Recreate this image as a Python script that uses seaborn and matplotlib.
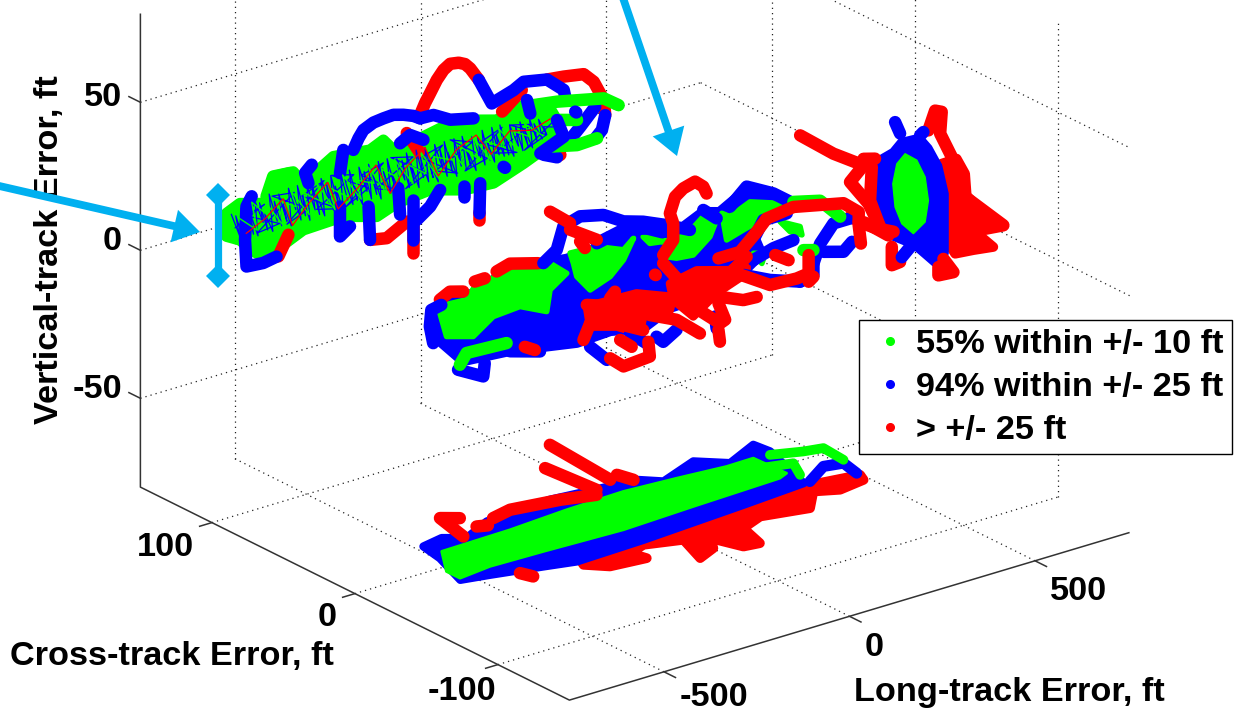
import matplotlib
matplotlib.use("Agg")
import pandas as pd
import seaborn as sns
import matplotlib.pyplot as plt
from matplotlib.lines import Line2D

long_lim = (-755, 755)
cross_lim = (-150, 150)
vert_lim = (-80, 80)
long_ticks = [-500, 0, 500]
cross_ticks = [-100, 0, 100]
vert_ticks = [-50, 0, 50]

legend_labels = ["55% within +/- 10 ft", "94% within +/- 25 ft", "> +/- 25 ft"]

# long-track vs vertical error, shadow on the back wall (long, vert)
back_green_fill = [(-523, 3.8), (-487, 5.8), (-406, 2.8), (-397, 11.5), (-343, 11.1), (-316, 6.2), (-235, 12.2),
                   (-136, 10.7), (-100, 12.7), (-64, 6.9), (8, 9.8), (80, 11.6), (152, 10), (206, 8), (260, 10.5),
                   (341, 8.5), (368, 1.9), (341, -6.1), (278, -9.4), (197, -13), (116, -12.3), (26, -8.9), (-64, -10),
                   (-118, -12.5), (-208, -9.1), (-316, -9.6), (-388, -13.6), (-442, -12.7), (-487, -6.6), (-523, -4)]
back_green = [[(-415, 5.4), (-397, 11.5), (-352, 11), (-334, 5.8)],
              [(305, 9.3), (368, 8.1), (494, 4.5), (534, 0.7)],
              [(350, -6.4), (422, -8.6), (476, -8.3)],
              [(377, 1.6), (422, -0.1)],
              [(-523, 1), (-520, -3)]]
back_blue = [[(-181, 12.4), (-167, 15.8), (-154, 18.1), (-127, 19.6), (-100, 20), (-73, 20.2), (-46, 19.2), (-19, 17.8),
              (-1, 16.3)],
             [(-1, 16.3), (35, 16.1), (80, 12.8), (143, 10.9)],
             [(157, 23.4), (192, 14.1), (251, 16.4), (278, 18.2), (341, 16.6), (386, 11.4), (390, 9)],
             [(498, -1.3), (489, -6), (471, -8.2)],
             [(471, 2.5), (431, -2.7), (395, -7)],
             [(332, -8.5), (368, -10.7)],
             [(-217, -5.4), (-217, -15.5), (-190, -13.1)],
             [(-140, -8.3), (-136, -19.7)],
             [(-60, -5), (-55, -14.2)],
             [(-19, -10.5), (-19, -24.1)],
             [(-10, -17.7), (26, -14.5), (53, -9.9)],
             [(161, -11.7), (159, -21.8)],
             [(116, -11.1), (116, -14.5)],
             [(224, -8.5), (228, -9)]]
back_blue_over = [[(-208, 13.4), (-217, 5.9)],
                  [(-293, 11.6), (-311, 9.5), (-302, 5.7)],
                  [(-455, 7), (-469, 4.1), (-473, -7.1), (-469, -16.2), (-424, -16.7), (-388, -15.9)],
                  [(-55, 9.9), (-28, 11.7), (8, 8.7)],
                  [(287, 11.7), (296, 6.8)],
                  [(417, 2.9), (420, 2.5)],
                  [(368, 1.9), (386, -4.4), (323, -7.7)]]
back_red = [[(-1, 17.5), (12, 20.9), (26, 23.8), (44, 27.6), (62, 30.3), (80, 31.7), (103, 31.2), (120, 30.1), (134, 28.1),
             (157, 23.4)],
            [(341, 16.6), (386, 15.9), (440, 14.7), (467, 11.1), (494, 3.9), (498, -1.3)],
            [(220, 10.3), (273, 15.6)],
            [(-37, 12.7), (-1, 4.5)],
            [(-136, -19.7), (-91, -20.8), (-37, -17.2)],
            [(-19, -19.5), (-19, -28.5)],
            [(159, -21.2), (159, -24)],
            [(-383, -16), (-356, -9.7)],
            [(377, -10.2), (372, -10.3)]]
back_hatch = [(-510, 3), (-488, -5), (-498, 2), (-476, -7), (-484, 4), (-462, -4), (-472, 5), (-450, -6), (-458, 1),
              (-438, -7), (-446, 5), (-424, -3), (-434, 4), (-412, -6), (-420, 0), (-398, -7), (-408, 6), (-386, -4),
              (-394, 3), (-374, -6), (-382, 5), (-360, -5), (-370, 1), (-348, -7), (-356, 6), (-336, -2), (-344, 4),
              (-322, -6), (-332, 6), (-310, -5), (-318, 2), (-298, -7), (-306, 5), (-284, -4), (-294, 6), (-272, -6),
              (-280, 1), (-258, -7), (-268, 6), (-246, -3), (-254, 4), (-234, -6), (-242, 6), (-220, -5), (-230, 2),
              (-208, -7), (-216, 6), (-196, -4), (-204, 3), (-182, -6), (-192, 6), (-170, -5), (-178, 0), (-156, -7),
              (-166, 6), (-144, -3), (-152, 4), (-132, -6), (-140, 6), (-118, -5), (-128, 2), (-106, -7), (-114, 6),
              (-94, -4), (-102, 3), (-80, -6), (-90, 6), (-68, -5), (-76, 0), (-54, -7), (-64, 5), (-42, -3), (-50, 4),
              (-30, -6), (-38, 6), (-16, -5), (-26, 2), (-4, -7), (-12, 6), (8, -4), (0, 3), (22, -6), (12, 6), (34, -5),
              (26, 0), (48, -7), (38, 6), (60, -3), (52, 4), (72, -6), (64, 6), (86, -5), (76, 2), (98, -7), (90, 6),
              (110, -4), (102, 3), (124, -6), (112, 6), (136, -5), (128, 0), (150, -7), (138, 5), (162, -3), (154, 4),
              (174, -6), (166, 6), (188, -5), (178, 2), (200, -6), (192, 6), (212, -4), (204, 3), (226, -5), (214, 6),
              (238, -5), (230, 1), (252, -6), (240, 5), (264, -3), (256, 4), (276, -5), (268, 5), (290, -4), (280, 2),
              (302, -5), (294, 5), (314, -3), (306, 3), (328, -3), (318, 4), (340, -2), (332, 1), (356, 0)]
# second scribble, long strokes running with the track, breaks up the zigzag above
back_hatch_long = [(-500, -2), (-420, 3), (-470, 1), (-380, -5), (-440, -6), (-340, 4), (-400, 5), (-300, -3),
                   (-360, -6), (-260, 5), (-320, 2), (-220, -6), (-280, -4), (-180, 4), (-240, 6), (-140, -2),
                   (-200, -6), (-100, 5), (-160, 3), (-60, -6), (-120, -3), (-20, 4), (-80, 6), (20, -3), (-40, -6),
                   (60, 5), (0, 3), (100, -6), (40, -3), (140, 3), (80, 6), (180, -4), (120, -6), (220, 5), (160, 2),
                   (260, -5), (200, -3), (300, 3), (240, 5), (340, -2), (280, -5), (360, 2)]
back_hatch_green = [(-490, 1), (-440, -5), (-455, 5), (-405, -2), (-420, 4), (-370, -6), (-385, 3), (-335, -1),
                    (-350, 5), (-300, -5), (-315, 3), (-265, -2), (-280, 5), (-230, -6), (-245, 2), (-195, -3),
                    (-210, 5), (-160, -5), (-175, 2), (-125, -1), (-140, 5), (-90, -6), (-105, 3), (-55, -2), (-70, 5),
                    (-20, -5), (-35, 2), (15, -3), (0, 5), (50, -6), (35, 2), (85, -1), (70, 5), (120, -5), (105, 3),
                    (155, -3), (140, 5), (190, -5), (175, 2), (225, -2), (210, 5), (260, -4), (245, 3), (295, -1),
                    (280, 4), (330, -2)]
back_red_hatch = [(-470, -5), (-420, -2), (-370, 3), (-345, -7), (-300, -1), (-250, 4), (-222, -6), (-170, -1),
                  (-120, 5), (-82, -6), (-40, 1), (12, 6), (48, -5), (96, 2), (150, 5), (190, -3), (240, 3), (300, 1),
                  (350, 3)]

# the 3D track itself, drawn on the cross = 0 plane (long, vert)
core_blue_fill = [(-517, 8.1), (-427, 9.2), (-337, 13.7), (-184, 11.3), (-103, 11.7), (-49, 13), (22, 12.5), (112, 9.2),
                  (184, 13.3), (229, 11.6), (292, 15.9), (382, 10.3), (310, 2.9), (337, -6), (292, -10), (202, -14.4),
                  (94, -14.9), (22, -19), (-67, -16.7), (-157, -17.3), (-337, -13.3), (-463, -12), (-526, -2.8)]
core_blue = [[(-544, -3.3), (-553, 2.7), (-549, 8.1), (-522, 8.8)],
             [(-477, -14.8), (-409, -19.6), (-405, -15.3)],
             [(-247, 12.6), (-211, 15.7), (-193, 23), (-148, 24.7), (-85, 22.8), (-31, 18.6), (22, 16.5), (85, 13),
              (148, 9)],
             [(-103, 13.9), (-31, 15.8), (31, 13.9)],
             [(184, 14.4), (220, 10.2)],
             [(256, 12.8), (301, 17.9), (373, 12.9), (427, 7.5)],
             [(481, -14.8), (499, -8.8), (535, -3.3), (580, -3.3)],
             [(508, -11.9), (562, -13.9), (585, -11.4)],
             [(481, -14.8), (481, -18.7), (445, -19.6)],
             [(292, -11.6), (364, -16), (445, -19.6)],
             [(319, -0.8), (346, 4.9), (409, 4.8)],
             [(427, -4.9), (373, -5.6), (319, -7.6)],
             [(-121, -20.4), (-76, -26.5)],
             [(-13, -19.9), (31, -24.9)],
             [(58, -23.7), (76, -26.1), (112, -23.4)],
             [(216, -22.8), (220, -27)],
             [(-256, -16.9), (-337, -13.8)]]
core_green_fills = [[(-531, 8.6), (-454, 8), (-427, 12.5), (-346, 12.9), (-229, 11.9), (-184, 6.8), (-229, 2.9),
                     (-238, -4.1), (-310, 0.3), (-382, -0.4), (-436, -5.1), (-508, -2.4)],
                    [(-175, 13.3), (-103, 12.8), (-31, 9), (-4, 11.9), (-31, 5.6), (-67, 1.3), (-121, -1.2),
                     (-157, 4.7), (-166, 9.5)],
                    [(22, 11.4), (76, 7.7), (139, 7.6), (184, 12.2), (216, 8.7), (202, 4.7), (157, 0.2), (112, 0.8),
                     (85, 2.3), (103, 7.3), (40, 8.5)],
                    [(234, 11.4), (256, 9.5), (310, 12.4), (400, 8.5), (346, 5.5), (292, 3.6), (247, 1.9)],
                    [(391, 2.7), (445, -1), (450, -4), (418, -1.7)],
                    [(319, -5.3), (351, -6.5), (342, -9.6)]]
core_green = [[(-472, -13.3), (-454, -10), (-346, -10.7)],
              [(427, 8), (499, 5.7), (553, -1.7)],
              [(454, -9.3), (481, -10.3)]]
core_red_fills = [[(94, -7.1), (166, -5.3), (256, -8.6), (301, -5.8), (301, -11.4), (220, -15.1), (157, -20.6),
                   (103, -13)],
                  [(-130, -6.4), (4, -7), (103, -11.9), (94, -16.1), (22, -15.6), (13, -20.9), (-49, -16.3),
                   (-121, -13.6)]]
core_red = [[(76, 3.2), (103, 7.3), (103, 12.9), (94, 16.6), (108, 21.7), (130, 23.7), (162, 24.8), (184, 22.3),
             (193, 19.6)],
            [(225, -3.5), (283, -3.5), (328, 1.6), (355, 5.1), (427, 6.3), (562, 2.5), (603, -2), (603, -6.5),
             (609, -12.9)],
            [(603, -5.3), (652, -9.4), (697, -12.2)],
            [(76, 0.4), (121, -7.5), (157, -12.7), (292, -20.1), (328, -20.4)],
            [(-130, -5.9), (-49, -9.5), (4, -8.2), (94, -12.7), (157, -10.5), (256, -9.7), (301, -5.8)],
            [(157, -7.1), (202, -7.7), (274, -10.4), (364, -17.7), (436, -18.2), (468, -17.7), (468, -11.5)],
            [(378, -8.1), (414, -11.2)],
            [(-121, -12.5), (-139, -17.4)],
            [(-121, -12.5), (-49, -15.2), (22, -20.1)],
            [(40, -15.7), (112, -20), (175, -27)],
            [(157, -17.2), (229, -25.6), (243, -24.9), (225, -18.7)],
            [(-67, -26.3), (-31, -30.4), (40, -29.7), (36, -24.6)],
            [(-40, -21.1), (-9, -24.6)],
            [(-54, -4.3), (-67, -6)],
            [(54, -2.6), (56, -2.8)],
            [(-297, -13.8), (-270, -15.9)],
            [(-229, 29.3), (-175, 23.4)],
            [(-175, 21.2), (-103, 15.1)],
            [(-148, 16.2), (-135, 13.5)],
            [(225, -27.7), (229, -31.8)],
            [(468, -20.5), (481, -19.3)]]
core_red_under = [[(-526, 10.7), (-499, 12.4), (-463, 11.1)],
                  [(-432, 13.3), (-405, 13.4)],
                  [(-373, 14.5), (-337, 15.8), (-261, 13.1)]]

# cross-track vs vertical error, shadow on the right wall (cross, vert)
side_green_fill = [(7, 10.3), (-1.2, 10.1), (-7, 5.8), (-9.3, -1.6), (-7, -9.4), (1.2, -15.3), (9.3, -13.9), (14, -9.4),
                   (15.6, -1.9), (12.8, 5.5)]
side_blue_fill = [(10.5, 14), (-3.5, 19), (-10.5, 16.8), (-17.5, 12.3), (-22.1, 3.8), (-22.1, -16.5), (-15.1, -22.7),
                  (1.2, -19.8), (18.7, -20.6), (26.8, -12.4), (28, 3.1), (16.3, 9.2)]
side_blue = [[(14, 19.3), (10.5, 16.3)],
             [(-3.5, 19), (-5.8, 20.7)],
             [(3.5, -20.4), (9.3, -25.2)]]
side_red_fill = [(-18.6, 13.1), (-29.1, 17.3), (-35, 13.6), (-36.1, 6.6), (-50.1, 2.6), (-40.8, -4.1), (-54.7, -6.4),
                 (-40.8, -10.8), (-28, -15.1), (-22.1, -12)]
side_red = [[(80.4, -1.1), (57.1, -1.7), (36.1, -0.6)],
            [(36.1, 1.6), (28, 3.6)],
            [(36.1, -0.6), (45.5, -8.5), (32.6, -12.7), (24.5, -18.7)],
            [(30.3, 0.2), (31.5, -11.4), (24.5, -18.7)],
            [(45.5, -20.3), (33.8, -19.7), (18.7, -20.1)],
            [(16.3, -23.4), (16.3, -29.6), (10.5, -27.1)],
            [(-16.3, -22.4), (-16.3, -25.2), (-26.8, -21.6), (-19.8, -18.8)],
            [(-9.3, 22.1), (-14, 29.9), (-18.6, 30.6), (-17.5, 23), (-26.8, 16.2)],
            [(-38.4, 5.4), (-61.7, 2.6), (-43, -3.6)]]

# long-track vs cross-track error, shadow on the floor (long, cross)
floor_green_fill = [(-466, 14.3), (-278, 15.3), (-115, 18), (42, 19.2), (177, 16.8), (301, 14), (374, 14.3), (379, -7.7),
                    (351, -10.3), (109, -12.4), (-87, -14.5), (-295, -12.5), (-436, -11.6), (-526, -14.1), (-526, -4.6)]
floor_green = [[(413, 12.8), (481, 7), (526, 4.7), (520, -10.9)],
               [(352, 3.7), (424, -0.7), (396, -12.7)]]
floor_blue_fill = [(-480, 23.4), (-421, 26), (-379, 19.4), (-289, 28.7), (-109, 31.2), (54, 26.8), (104, 25.9),
                   (144, 17.4), (262, 27.2), (318, 16), (419, 26), (425, 15.8), (374, -20.9), (199, -24.1), (-88, -28.6),
                   (-273, -30.1), (-346, -25.7), (-464, -19), (-531, -15.6), (-492, 8.8)]
floor_blue = [[(390, -21.1), (464, -11.4), (509, -13.8), (497, -26.1)]]
floor_red_fill = [(-250, -24.3), (-76, -25.7), (160, -22.7), (340, -22.7), (497, -28.5), (486, -33.8), (413, -36.3),
                  (362, -30.8), (300, -44.6), (188, -38.8), (120, -44.6), (97, -62.2), (58, -60.8), (30, -44.6),
                  (2, -54.3), (-54, -59.6), (-20, -39.1), (-104, -33), (-155, -36.8), (-144, -45.6), (-234, -43.2),
                  (-273, -34.8)]
floor_red = [[(77, 79.5), (60, 32.9)],
             [(88, 35.5), (99, 26.7)],
             [(-10, 60.3), (3, 27.7)],
             [(-323, 38.7), (-356, 44), (-379, 21.7)],
             [(-323, 27), (-300, 25)],
             [(-267, 30), (-210, 32.9), (-92, 28.5), (-14, 23.3)],
             [(-408, -25.4), (-397, -31.8)]]

# blue bracket on the back wall, values in (long, vert)
bracket_long = [-547, -547]
bracket_vert = [10.9, -16.5]

PLANES = {
    "back": lambda a, b: (a, 150, b),
    "core": lambda a, b: (a, 0, b),
    "side": lambda a, b: (755, a, b),
    "floor": lambda a, b: (a, b, -80),
}

GREEN, BLUE, RED, CYAN = "#00ff00", "#0000ff", "#ff0000", "#00b0f0"
STROKE = 9


def project(long, cross, vert):
    # same oblique view as the original 3D axes, result in image pixels
    return 635 + 0.371 * long - 1.43 * cross, 273 - 0.111 * long - 0.71 * cross - 2.96 * vert


def draw_paths(ax, paths, plane, color, width=STROKE):
    rows = []
    for i, path in enumerate(paths):
        for a, b in path:
            sx, sy = project(*PLANES[plane](a, b))
            rows.append({"path": i, "sx": sx, "sy": sy})
    sns.lineplot(data=pd.DataFrame(rows), x="sx", y="sy", units="path", estimator=None, sort=False, color=color,
                 linewidth=width, solid_capstyle="round", solid_joinstyle="round", legend=False, ax=ax)


def draw_fill(ax, points, plane, color, edge=6):
    xy = [project(*PLANES[plane](a, b)) for a, b in points]
    ax.fill([p[0] for p in xy], [p[1] for p in xy], color=color, lw=edge, joinstyle="round")


def draw_grid(ax):
    style = dict(color="#222222", lw=0.9, ls=(0, (1, 3.2)), zorder=1)
    lo_l, hi_l = long_lim
    lo_c, hi_c = cross_lim
    lo_v, hi_v = vert_lim
    segments = []
    for t in long_ticks:
        segments.append(((t, lo_c, lo_v), (t, hi_c, lo_v)))
        segments.append(((t, hi_c, lo_v), (t, hi_c, hi_v)))
    for t in cross_ticks:
        segments.append(((lo_l, t, lo_v), (hi_l, t, lo_v)))
        segments.append(((hi_l, t, lo_v), (hi_l, t, hi_v)))
    for t in vert_ticks:
        segments.append(((lo_l, hi_c, t), (hi_l, hi_c, t)))
        segments.append(((hi_l, hi_c, t), (hi_l, lo_c, t)))
    for a, b in segments:
        p, q = project(*a), project(*b)
        ax.plot([p[0], q[0]], [p[1], q[1]], **style)


def draw_axes(ax):
    style = dict(color="#333333", lw=1.1, zorder=2, solid_capstyle="butt")
    lo_l, hi_l = long_lim
    lo_c, hi_c = cross_lim
    lo_v, hi_v = vert_lim
    corners = [(lo_l, hi_c, hi_v), (lo_l, hi_c, lo_v), (lo_l, lo_c, lo_v), (hi_l, lo_c, lo_v)]
    xy = [project(*c) for c in corners]
    ax.plot([p[0] for p in xy], [p[1] for p in xy], **style)
    ticks = [((lo_l, hi_c, t), (lo_l, hi_c + 8.5, t)) for t in vert_ticks]
    ticks += [((lo_l, t, lo_v), (lo_l - 35, t, lo_v)) for t in cross_ticks]
    ticks += [((t, lo_c, lo_v), (t, lo_c - 8.5, lo_v)) for t in long_ticks]
    for a, b in ticks:
        p, q = project(*a), project(*b)
        ax.plot([p[0], q[0]], [p[1], q[1]], **style)


sns.set_theme(style="white")
plt.rcParams["font.family"] = ["Liberation Sans", "DejaVu Sans"]
fig = plt.figure(figsize=(12.39, 7.15), dpi=100)
ax = fig.add_axes([0, 0, 1, 1])

draw_grid(ax)
draw_axes(ax)

# back wall shadow
draw_paths(ax, back_red, "back", RED)
draw_paths(ax, back_blue, "back", BLUE)
draw_fill(ax, back_green_fill, "back", GREEN, edge=8)
draw_paths(ax, back_green, "back", GREEN)
draw_paths(ax, back_blue_over, "back", BLUE)
draw_paths(ax, [back_hatch], "back", BLUE, 0.9)
draw_paths(ax, [back_hatch_long], "back", BLUE, 0.9)
draw_paths(ax, [back_hatch_green], "back", GREEN, 1.0)
draw_paths(ax, [back_red_hatch], "back", RED, 0.9)

# floor shadow
draw_paths(ax, floor_red, "floor", RED)
draw_fill(ax, floor_red_fill, "floor", RED, edge=7)
draw_paths(ax, floor_blue, "floor", BLUE, 8)
draw_fill(ax, floor_blue_fill, "floor", BLUE)
draw_paths(ax, floor_green, "floor", GREEN, 7)
draw_fill(ax, floor_green_fill, "floor", GREEN, edge=2)

# right wall shadow
draw_paths(ax, side_red, "side", RED)
draw_fill(ax, side_red_fill, "side", RED, edge=7)
draw_paths(ax, side_blue, "side", BLUE)
draw_fill(ax, side_blue_fill, "side", BLUE, edge=3)
draw_fill(ax, side_green_fill, "side", GREEN, edge=1)

# the track
draw_paths(ax, core_red_under, "core", RED)
draw_fill(ax, core_blue_fill, "core", BLUE, edge=9)
draw_paths(ax, core_blue, "core", BLUE)
for poly in core_green_fills:
    draw_fill(ax, poly, "core", GREEN, edge=4)
draw_paths(ax, core_green, "core", GREEN)
for poly in core_red_fills:
    draw_fill(ax, poly, "core", RED)
draw_paths(ax, core_red, "core", RED)

# tick labels and axis titles
label = dict(fontsize=24.7, fontweight="bold", color="black", zorder=5)
for s, (px, py) in zip(["-50", "0", "50"], [(122, 390), (122, 242), (122, 97)]):
    ax.text(px, py, s, ha="right", va="center", **label)
for s, (px, py) in zip(["-100", "0", "100"], [(462, 691), (327, 617), (165, 548)]):
    ax.text(px, py, s, ha="center", va="center", **label)
for s, (px, py) in zip(["-500", "0", "500"], [(714, 698), (874, 647), (1079, 592)]):
    ax.text(px, py, s, ha="center", va="center", **label)
ax.text(50, 250, "Vertical-track Error, ft", rotation=90, ha="center", va="center", **label)
ax.text(172, 656, "Cross-track Error, ft", ha="center", va="center", **label)
ax.text(1009, 693, "Long-track Error, ft", ha="center", va="center", **label)

# callouts
bx, by = zip(*[project(b, 150, v) for b, v in zip(bracket_long, bracket_vert)])
ax.plot(bx, by, color=CYAN, lw=5.2, marker="D", ms=12, mew=0, zorder=6)
arrow = dict(arrowstyle="simple,head_length=19,head_width=24,tail_width=5.6", color=CYAN, lw=0, mutation_scale=1,
             shrinkA=0, shrinkB=0)
ax.annotate("", xy=(200, 232), xytext=(-5, 185), arrowprops=arrow, zorder=6)
ax.annotate("", xy=(677, 156), xytext=(622, -5), arrowprops=arrow, zorder=6)

handles = [Line2D([], [], ls="none", marker="o", ms=5.5, color=c) for c in [GREEN, BLUE, RED]]
leg = ax.legend(handles, legend_labels, loc="upper left", bbox_to_anchor=(859 / 1239, 1 - 320 / 715), fontsize=24.7,
                labelcolor="black", frameon=True, fancybox=False, framealpha=1, edgecolor="black", borderpad=0.25,
                labelspacing=0.35, handletextpad=0.1, handlelength=1.31, borderaxespad=0)
leg.get_frame().set_linewidth(1.0)
leg.set_zorder(7)
for txt in leg.get_texts():
    txt.set_fontweight("bold")

ax.set_xlim(0, 1239)
ax.set_ylim(715, 0)
ax.axis("off")
fig.savefig("out.png", dpi=100)
